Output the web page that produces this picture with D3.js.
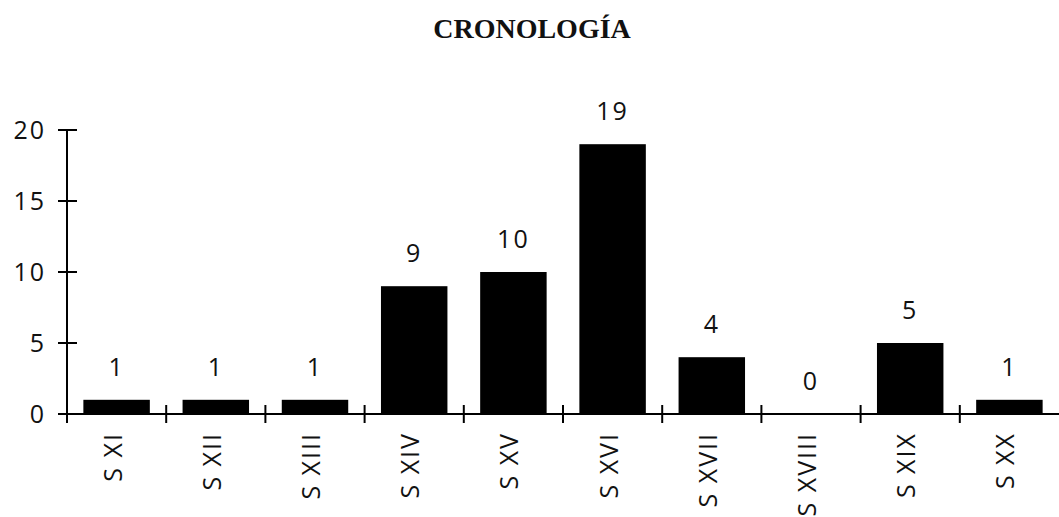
<!DOCTYPE html>
<html>
<head>
<meta charset="utf-8">
<script src="https://cdn.jsdelivr.net/npm/d3@7"></script>
<style>
  body { margin: 0; background: #fff; }
  svg { display: block; }
  .lbl { font-family: "Open Sans", "Liberation Sans", sans-serif; font-size: 25px; fill: #111; letter-spacing: 2px; }
  .title { font-family: "Liberation Serif", "Times New Roman", serif; font-weight: bold; font-size: 28px; fill: #111; }
</style>
</head>
<body>
<div id="chart"></div>
<script>
// chart data
var categories = ["S XI", "S XII", "S XIII", "S XIV", "S XV", "S XVI", "S XVII", "S XVIII", "S XIX", "S XX"];
var counts = [1, 1, 1, 9, 10, 19, 4, 0, 5, 1];
var yTicks = [0, 5, 10, 15, 20];
var title = "CRONOLOGÍA";

var width = 1059, height = 517;
var svg = d3.select("#chart").append("svg")
    .attr("width", width)
    .attr("height", height);

var x = d3.scaleBand()
    .domain(categories)
    .range([67, 1059])
    .paddingInner(0.33)
    .paddingOuter(0.165);

var y = d3.scaleLinear()
    .domain([0, 20])
    .range([414, 130]);

// title
svg.append("text")
    .attr("class", "title")
    .attr("x", 532)
    .attr("y", 38)
    .attr("text-anchor", "middle")
    .text(title);

// bars
svg.selectAll("rect.bar")
    .data(categories)
    .enter()
    .append("rect")
    .attr("class", "bar")
    .attr("x", function(d) { return x(d); })
    .attr("y", function(d, i) { return y(counts[i]); })
    .attr("width", x.bandwidth())
    .attr("height", function(d, i) { return y(0) - y(counts[i]); })
    .attr("fill", "#000");

// value labels
svg.selectAll("text.val")
    .data(categories)
    .enter()
    .append("text")
    .attr("class", "lbl val")
    .attr("x", function(d) { return x(d) + x.bandwidth() / 2; })
    .attr("y", function(d, i) { return y(counts[i]) - 24; })
    .attr("text-anchor", "middle")
    .text(function(d, i) { return counts[i]; });

// y axis line + crossing ticks
svg.append("line")
    .attr("x1", 67).attr("x2", 67)
    .attr("y1", y(20)).attr("y2", y(0) + 9)
    .attr("stroke", "#000").attr("stroke-width", 2);

svg.selectAll("line.ytick")
    .data(yTicks)
    .enter()
    .append("line")
    .attr("x1", 58).attr("x2", 77)
    .attr("y1", function(d) { return y(d); })
    .attr("y2", function(d) { return y(d); })
    .attr("stroke", "#000").attr("stroke-width", 2);

svg.selectAll("text.ytl")
    .data(yTicks)
    .enter()
    .append("text")
    .attr("class", "lbl ytl")
    .attr("x", 46)
    .attr("y", function(d) { return y(d); })
    .attr("dy", "0.36em")
    .attr("text-anchor", "end")
    .text(function(d) { return d; });

// x axis line + boundary ticks
svg.append("line")
    .attr("x1", 58).attr("x2", width)
    .attr("y1", y(0)).attr("y2", y(0))
    .attr("stroke", "#000").attr("stroke-width", 2);

var off = x.step() * x.paddingOuter();
svg.selectAll("line.xtick")
    .data(categories)
    .enter()
    .append("line")
    .attr("x1", function(d) { return x(d) - off; })
    .attr("x2", function(d) { return x(d) - off; })
    .attr("y1", y(0) - 9)
    .attr("y2", y(0) + 9)
    .attr("stroke", "#000").attr("stroke-width", 2);

// rotated category labels
svg.selectAll("text.cat")
    .data(categories)
    .enter()
    .append("text")
    .attr("class", "lbl cat")
    .attr("transform", function(d) {
        return "translate(" + (x(d) + x.bandwidth() / 2 - 4) + ",432) rotate(-90)";
    })
    .attr("dy", "0.36em")
    .attr("text-anchor", "end")
    .text(function(d) { return d; });
</script>
</body>
</html>
